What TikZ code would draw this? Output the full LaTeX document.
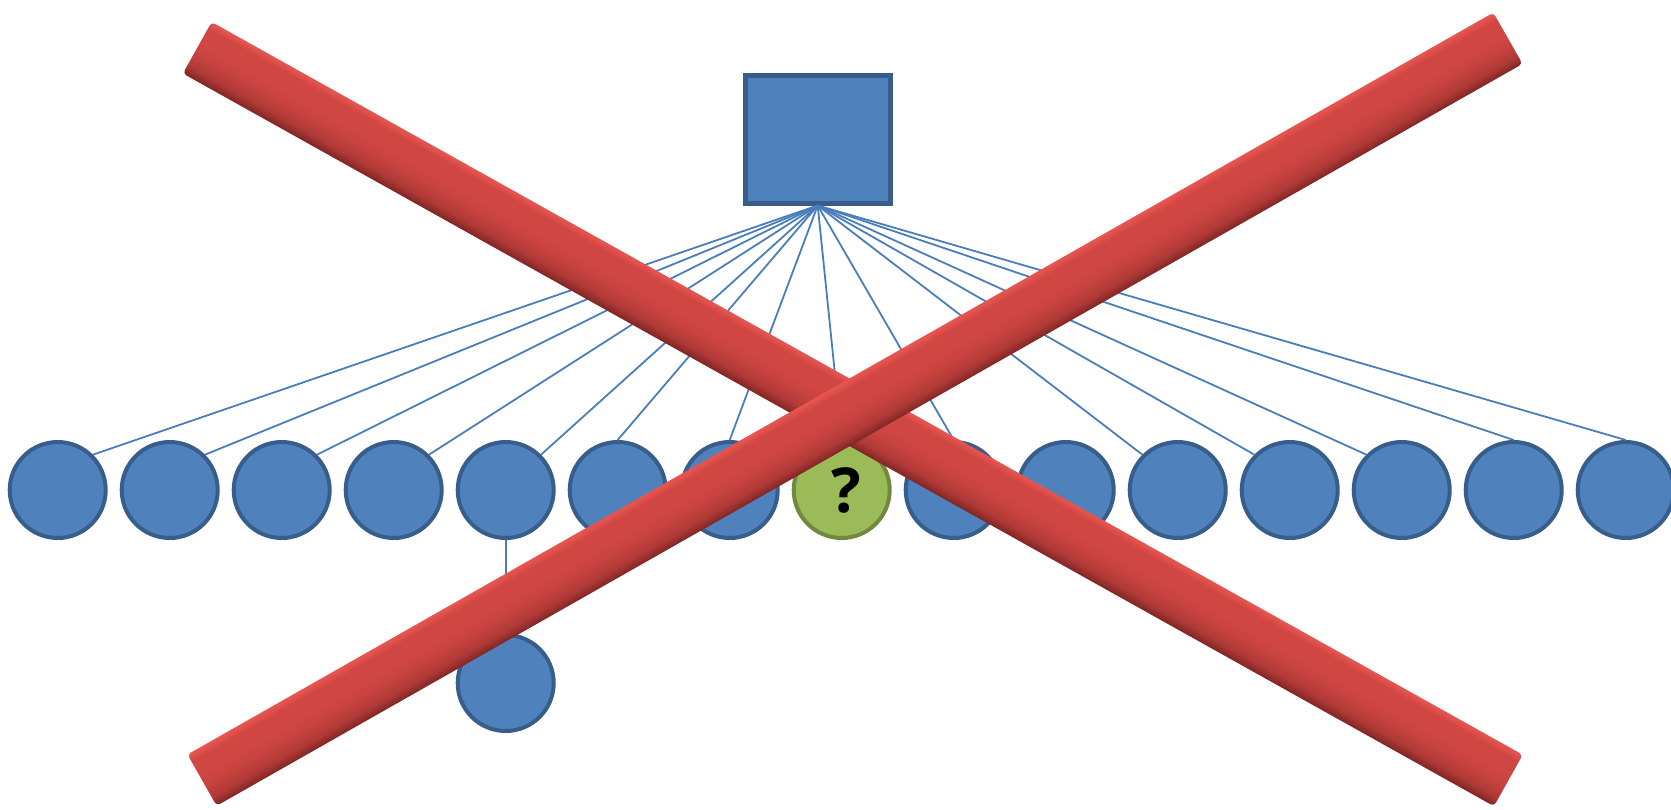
\documentclass[tikz,border=0pt]{standalone}
\usepackage{fontspec}
\setsansfont{Open Sans}
\usetikzlibrary{positioning}
\definecolor{unitfill}{HTML}{4F81BD}
\definecolor{unitline}{HTML}{385D8A}
\definecolor{linkcol}{HTML}{4A7EBB}
\definecolor{guessfill}{HTML}{9BBB59}
\definecolor{guessline}{HTML}{71893F}
\definecolor{barhi}{HTML}{E6544F}
\definecolor{barmid}{HTML}{D04642}
\definecolor{barlo}{HTML}{7E2624}
\pgfdeclareverticalshading{barshade}{100bp}{color(0bp)=(barlo); color(25bp)=(barlo); color(33bp)=(barmid!60!barlo); color(45bp)=(barmid!90!barlo); color(55bp)=(barmid); color(68bp)=(barmid); color(74bp)=(barhi); color(100bp)=(barhi)}

\begin{document}
\begin{tikzpicture}[x=1pt,y=1pt,
		unit/.style={circle,draw=unitline,fill=unitfill,line width=4pt,minimum size=96pt,inner sep=0pt},
		guess/.style={unit,draw=guessline,fill=guessfill,font=\sffamily\bfseries\fontsize{62}{64}\selectfont},
		link/.style={draw=linkcol,line width=1.8pt},
		bar/.style={rectangle,rounded corners=4pt,minimum width=1502pt,minimum height=59pt,inner sep=0pt,shading=barshade}]
	\useasboundingbox (0,0) rectangle (1671,-809);
	\node[rectangle,draw=unitline,fill=unitfill,line width=5pt,minimum width=145pt,minimum height=128pt] (root) at (817.7,-139) {};
	\node[unit] (u0) at (57.7,-490) {};
	\node[unit,right=12pt of u0] (u1) {};
	\node[unit,right=12pt of u1] (u2) {};
	\node[unit,right=12pt of u2] (u3) {};
	\node[unit,right=12pt of u3] (u4) {};
	\node[unit,right=12pt of u4] (u5) {};
	\node[unit,right=12pt of u5] (u6) {};
	\node[guess,right=12pt of u6] (u7) {\kern10pt?};
	\node[unit,right=12pt of u7] (u8) {};
	\node[unit,right=12pt of u8] (u9) {};
	\node[unit,right=12pt of u9] (u10) {};
	\node[unit,right=12pt of u10] (u11) {};
	\node[unit,right=12pt of u11] (u12) {};
	\node[unit,right=12pt of u12] (u13) {};
	\node[unit,right=12pt of u13] (u14) {};
	\node[unit,below=93pt of u4] (leaf) {};
	\draw[link] (root.south) -- (u0.north east);
	\draw[link] (root.south) -- (u1.north east);
	\draw[link] (root.south) -- (u2.north east);
	\draw[link] (root.south) -- (u3.north east);
	\draw[link] (root.south) -- (u4.north east);
	\draw[link] (root.south) -- (u5.north);
	\draw[link] (root.south) -- (u6.north);
	\draw[link] (root.south) -- (u7.north);
	\draw[link] (root.south) -- (u8.north);
	\draw[link] (root.south) -- (u10.north west);
	\draw[link] (root.south) -- (u11.north west);
	\draw[link] (root.south) -- (u12.north west);
	\draw[link] (root.south) -- (u13.north);
	\draw[link] (root.south) -- (u14.north);
	\draw[link] (u4.south) -- (leaf.north);
	\begin{scope}[transform canvas={shift={(852.8,-414.1)},rotate=-29.2}]
		\node[bar] (fall) at (0,0) {};
	\end{scope}
	\begin{scope}[transform canvas={shift={(855,-409.2)},rotate=29.6}]
		\node[bar] (rise) at (0,0) {};
	\end{scope}
\end{tikzpicture}
\end{document}
